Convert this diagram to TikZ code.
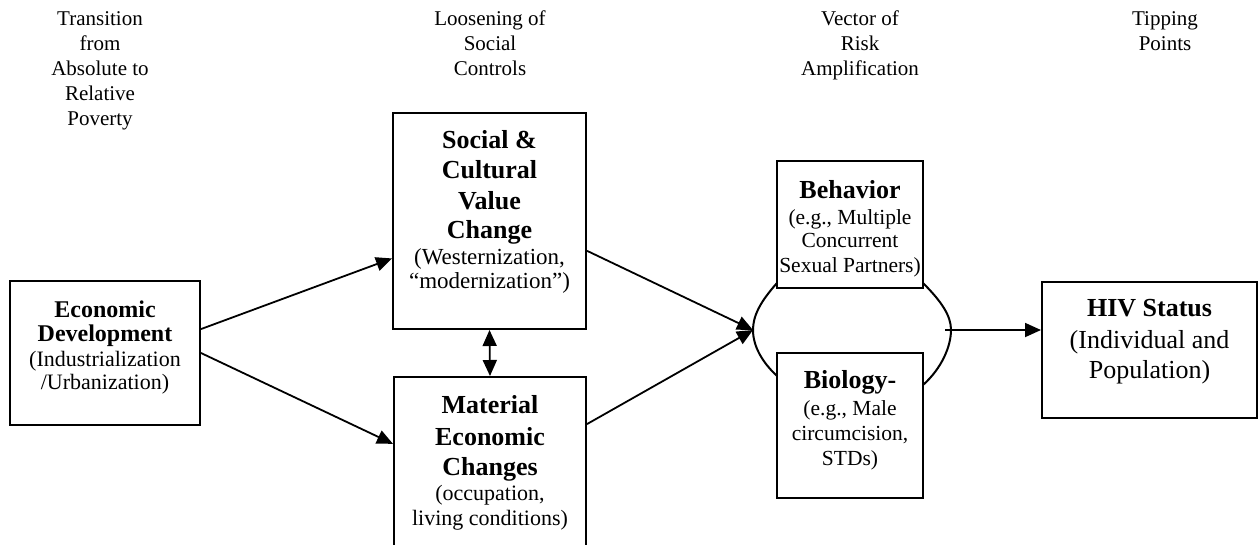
\documentclass[tikz,border=0pt]{standalone}
\usepackage{fontspec}
\setmainfont{Liberation Serif}
\usetikzlibrary{arrows.meta}
\newcommand{\fsz}[1]{\fontsize{#1}{#1}\selectfont}
\begin{document}
\begin{tikzpicture}[x=1pt,y=-1pt,
  box/.style={draw, line width=2pt, inner sep=0pt},
  hd/.style={anchor=base, font=\fsz{21}, inner sep=0pt},
  bl/.style={anchor=base, font=\bfseries\fsz{26}, inner sep=0pt},
  rg/.style={anchor=base, font=\fsz{22}, inner sep=0pt},
  tip/.style={Triangle[length=16pt,width=14pt]},
  arr/.style={line width=1.8pt, -{Triangle[length=16pt,width=14pt]}},
  lens/.style={line width=2pt},
]
\useasboundingbox (0,0) rectangle (1258,544);
% headers
\node[hd] (h11) at (100,25) {Transition};
\node[hd] (h12) at (100,50) {from};
\node[hd] (h13) at (100,75) {Absolute to};
\node[hd] (h14) at (100,100) {Relative};
\node[hd] (h15) at (100,125) {Poverty};
\node[hd] (h21) at (490,25) {Loosening of};
\node[hd] (h22) at (490,50) {Social};
\node[hd] (h23) at (490,75) {Controls};
\node[hd] (h31) at (860,25) {Vector of};
\node[hd] (h32) at (860,50) {Risk};
\node[hd] (h33) at (860,75) {Amplification};
\node[hd] (h41) at (1165,25) {Tipping};
\node[hd] (h42) at (1165,50) {Points};
% boxes
\node[box, minimum width=190pt, minimum height=144pt] (econ) at (105,353) {};
\node[box, minimum width=193pt, minimum height=216pt] (social) at (489.5,221) {};
\node[box, minimum width=192pt, minimum height=193pt] (material) at (490,473.5) {};
\node[box, minimum width=146pt, minimum height=127pt] (behav) at (850,224.5) {};
\node[box, minimum width=146pt, minimum height=145pt] (bio) at (850,425.5) {};
\node[box, minimum width=215pt, minimum height=136pt] (hiv) at (1149.5,350) {};
% econ text
\node[bl, font=\bfseries\fsz{24}] (e1) at (105,317) {Economic};
\node[bl, font=\bfseries\fsz{24}] (e2) at (105,341) {Development};
\node[rg] (e3) at (105,366) {(Industrialization};
\node[rg] (e4) at (105,389) {/Urbanization)};
% social text
\node[bl] (s1) at (489.5,148) {Social \&};
\node[bl] (s2) at (489.5,178) {Cultural};
\node[bl] (s3) at (489.5,209) {Value};
\node[bl] (s4) at (489.5,238) {Change};
\node[rg, font=\fsz{23}] (s5) at (489.5,264) {(Westernization,};
\node[rg, font=\fsz{23}] (s6) at (489.5,288) {“modernization”)};
% material text
\node[bl] (m1) at (490,413) {Material};
\node[bl] (m2) at (490,445) {Economic};
\node[bl] (m3) at (490,475) {Changes};
\node[rg] (m4) at (490,500) {(occupation,};
\node[rg] (m5) at (490,525) {living conditions)};
% behavior text
\node[bl] (b1) at (850,198) {Behavior};
\node[rg, font=\fsz{21.5}] (b2) at (850,224) {(e.g., Multiple};
\node[rg, font=\fsz{21.5}] (b3) at (850,247) {Concurrent};
\node[rg, font=\fsz{21.5}] (b4) at (850,272) {Sexual Partners)};
% biology text
\node[bl] (g1) at (850,388) {Biology-};
\node[rg, font=\fsz{21.5}] (g2) at (850,415) {(e.g., Male};
\node[rg, font=\fsz{21.5}] (g3) at (850,440) {circumcision,};
\node[rg, font=\fsz{21.5}] (g4) at (850,465) {STDs)};
% hiv text
\node[bl] (v1) at (1149.5,316) {HIV Status};
\node[rg, font=\fsz{26}] (v2) at (1149.5,348) {(Individual and};
\node[rg, font=\fsz{26}] (v3) at (1149.5,378) {Population)};
% lens
\coordinate (lensL) at (753,330);
\coordinate (lensR) at (951,330);
\coordinate (lensRin) at (945,330);
\coordinate (bTL) at (777,283);
\coordinate (gTL) at (777,376);
\coordinate (bTR) at (923,283);
\coordinate (gTR) at (923,385);
\draw[lens] (bTL) .. controls (760,302) and (753,316) .. (lensL) .. controls (753,346) and (762,362) .. (gTL);
\draw[lens] (bTR) .. controls (942,302) and (951,316) .. (lensR) .. controls (951,346) and (942,368) .. (gTR);
% arrows
\draw[arr] (econ.14) -- (social.201);
\draw[arr] (econ.east) -- (material.163.5);
\draw[line width=1.8pt, {Triangle[length=16pt,width=14pt]}-{Triangle[length=16pt,width=14pt]}] (social.south) -- (material.north);
\draw[arr] (social.-17.8) -- (lensL);
\draw[arr] (material.27.3) -- (lensL);
\draw[arr] (lensRin) -- (lensRin -| hiv.west);
\end{tikzpicture}
\end{document}
